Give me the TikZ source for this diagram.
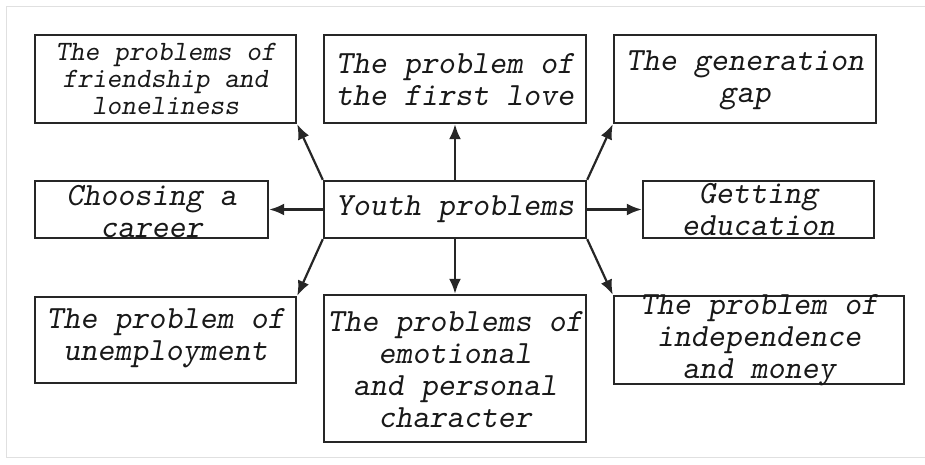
\documentclass[tikz,border=0pt]{standalone}
\usepackage{fontspec}
\usetikzlibrary{arrows.meta}

\tikzset{
  box/.style={draw=black!85, line width=2.4pt, inner sep=0pt},
  txt/.style={align=center, inner sep=0pt, text=black!90, font=\ttfamily\slshape\fontsize{32.4}{32}\selectfont},
  smalltxt/.style={txt, font=\ttfamily\slshape\fontsize{28}{27}\selectfont},
  arr/.style={-{Latex[length=15pt,width=12pt]}, line width=2.2pt, draw=black!85},
}

\begin{document}
\begin{tikzpicture}[x=1pt,y=-1pt]
        \useasboundingbox (0,0) rectangle (925,465);
        \draw[black!12, line width=1pt] (926,7) -- (6,7) -- (6,457) -- (926,457);

        % boxes
        \node[box, minimum width=261pt, minimum height=88pt] (fri) at (165.5,79) {};
        \node[box, minimum width=262pt, minimum height=88pt] (love) at (455,79) {};
        \node[box, minimum width=262pt, minimum height=88pt] (gap) at (745,79) {};
        \node[box, minimum width=233pt, minimum height=57pt] (career) at (151.5,209.5) {};
        \node[box, minimum width=262pt, minimum height=57pt] (youth) at (455,209.5) {};
        \node[box, minimum width=231pt, minimum height=57pt] (educ) at (758.5,209.5) {};
        \node[box, minimum width=261pt, minimum height=86pt] (unemp) at (165.5,340) {};
        \node[box, minimum width=262pt, minimum height=147pt] (emo) at (455,368.5) {};
        \node[box, minimum width=290pt, minimum height=88pt] (indep) at (759,340) {};

        % texts
        \node[smalltxt] (fri-t) at (165.5,79) {The problems of\\friendship and\\loneliness};
        \node[txt] (love-t) at (455,80) {The problem of\\the first love};
        \node[txt] (gap-t) at (745,80) {The generation\\gap};
        \node[txt] (career-t) at (151.5,212) {Choosing a\\career};
        \node[txt] (youth-t) at (455,209) {Youth problems};
        \node[txt] (educ-t) at (758.5,210) {Getting\\education};
        \node[txt] (unemp-t) at (165.5,338) {The problem of\\unemployment};
        \node[txt] (emo-t) at (455,370) {The problems of\\emotional\\and personal\\character};
        \node[txt] (indep-t) at (759,340) {The problem of\\independence\\and money};

        % arrows
        \draw[arr] (youth.north west) -- (fri.south east);
        \draw[arr] (youth.north) -- (love.south);
        \draw[arr] (youth.north east) -- (gap.south west);
        \draw[arr] (youth.west) -- (career.east);
        \draw[arr] (youth.east) -- (educ.west);
        \draw[arr] (youth.south west) -- (unemp.north east);
        \draw[arr] (youth.south) -- (emo.north);
        \draw[arr] (youth.south east) -- (indep.north west);
\end{tikzpicture}
\end{document}
